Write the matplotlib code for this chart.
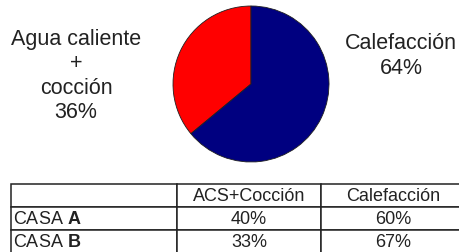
import matplotlib
matplotlib.use("Agg")
import matplotlib.pyplot as plt

plt.rcParams['font.family'] = ['Liberation Sans', 'DejaVu Sans']
plt.rcParams['mathtext.fontset'] = 'custom'
plt.rcParams['mathtext.rm'] = 'Liberation Sans'
plt.rcParams['mathtext.bf'] = 'Liberation Sans:bold'

# Data
pie_labels = ["Agua caliente\n+\ncocción", "Calefacción"]
pie_values = [36, 64]
pie_colors = ["#ff0000", "#000080"]

col_labels = ["", "ACS+Cocción", "Calefacción"]
row_labels = ["CASA $\\mathbf{A}$", "CASA $\\mathbf{B}$"]
acs_values = ["40%", "33%"]
cal_values = ["60%", "67%"]

W, H = 460, 253
fig = plt.figure(figsize=(W / 100, H / 100), dpi=100)
fig.patch.set_facecolor("white")

def px_axes(x0, y0, w, h):
    return fig.add_axes([x0 / W, (H - y0 - h) / H, w / W, h / H])

# Pie
cx, cy, r = 251, 85, 78
ax = px_axes(cx - r, cy - r, 2 * r, 2 * r)
ax.pie(pie_values, colors=pie_colors, startangle=90, counterclock=True,
       wedgeprops=dict(edgecolor="#202020", linewidth=0.6))
ax.set_xlim(-1, 1)
ax.set_ylim(-1, 1)
ax.set_aspect("equal")
ax.axis("off")

txt_color = "#222222"
fig.text(76 / W, 1 - 76 / H, f"{pie_labels[0]}\n{pie_values[0]}%", ha="center", va="center",
         fontsize=15.5, color=txt_color, linespacing=1.22)
fig.text(401 / W, 1 - 56 / H, f"{pie_labels[1]}\n{pie_values[1]}%", ha="center", va="center",
         fontsize=15.5, color=txt_color, linespacing=1.22)

# Table
tx0, ty0 = 11, 185
row_h = 23
col_w = [166, 144, 144]
tax = px_axes(tx0, ty0, sum(col_w), row_h * 3)
tax.axis("off")
cell_text = [col_labels] + [[row_labels[i], acs_values[i], cal_values[i]] for i in range(2)]
tbl = tax.table(cellText=cell_text, bbox=[0, 0, 1, 1],
                colWidths=[w / sum(col_w) for w in col_w], cellLoc="center")
tbl.auto_set_font_size(False)
for (rr, cc), cell in tbl.get_celld().items():
    cell.set_edgecolor("#222222")
    cell.set_linewidth(1.1)
    cell.set_facecolor("white")
    t = cell.get_text()
    t.set_fontsize(13)
    t.set_color(txt_color)
    if cc == 0:
        t.set_ha("left")
        cell.PAD = 0.01

fig.savefig("out.png", dpi=100)
